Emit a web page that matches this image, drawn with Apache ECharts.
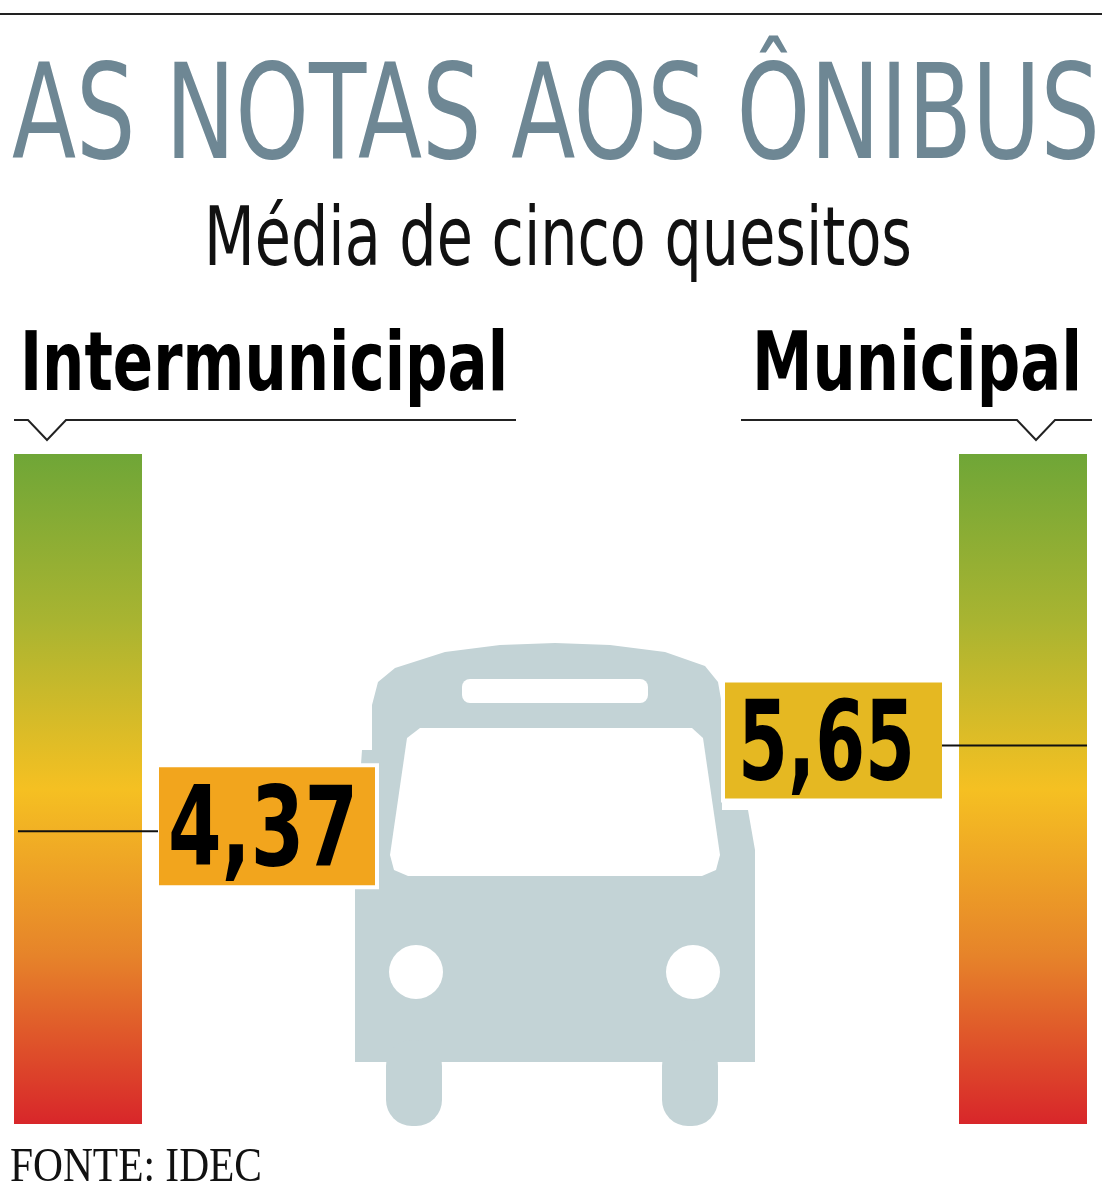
<!DOCTYPE html>
<html>
<head>
<meta charset="utf-8">
<script src="https://cdn.jsdelivr.net/npm/echarts@6/dist/echarts.min.js"></script>
<style>
  html, body { margin: 0; padding: 0; background: #fff; }
  #chart { width: 1102px; height: 1198px; }
</style>
</head>
<body>
<div id="chart"></div>
<script>
  // data
  let categories = ['Intermunicipal', 'Municipal'],
      notas      = [4.37, 5.65],
      notaLabels = ['4,37', '5,65'],
      scaleMax   = 10;

  let chart = echarts.init(document.getElementById('chart'));
  let cond = '"DejaVu Sans Condensed", "DejaVu Sans", sans-serif';
  let ctx = document.createElement('canvas').getContext('2d');

  // text stretched to a given width, baseline roughly at y
  function fitText(text, size, font, x, y, width, fill, asc) {
    let f = font.replace('SIZE', size + 'px');
    ctx.font = f;
    let w = ctx.measureText(text).width;
    return {type: 'text', x: x, y: y - (asc || 0.76) * size, scaleX: width / w, originX: 0, z: 10,
      style: {text: text, font: f, fill: fill, align: 'left', verticalAlign: 'top'}};
  }

  let barGradient = new echarts.graphic.LinearGradient(0, 0, 0, 1, [
    {offset: 0, color: '#6fa637'},
    {offset: 0.25, color: '#a9b431'},
    {offset: 0.5, color: '#f5c022'},
    {offset: 0.75, color: '#e6832a'},
    {offset: 1, color: '#d8262a'}
  ]);

  let option = {
    animation: false,
    grid: [
      {left: 14, top: 454, width: 128, height: 670},
      {left: 959, top: 454, width: 128, height: 670}
    ],
    xAxis: [
      {type: 'category', gridIndex: 0, data: [categories[0]], show: false},
      {type: 'category', gridIndex: 1, data: [categories[1]], show: false}
    ],
    yAxis: [
      {type: 'value', gridIndex: 0, min: 0, max: scaleMax, show: false},
      {type: 'value', gridIndex: 1, min: 0, max: scaleMax, show: false}
    ],
    series: [
      {type: 'bar', xAxisIndex: 0, yAxisIndex: 0, barWidth: '100%',
       data: [scaleMax], itemStyle: {color: barGradient}},
      {type: 'bar', xAxisIndex: 1, yAxisIndex: 1, barWidth: '100%',
       data: [scaleMax], itemStyle: {color: barGradient}}
    ]
  };
  chart.setOption(option);

  let y0 = chart.convertToPixel({yAxisIndex: 0}, notas[0]),
      y1 = chart.convertToPixel({yAxisIndex: 1}, notas[1]);

  let busColor = '#c3d3d6';
  let busBody = [[372, 750], [372, 705], [378, 682], [395, 668], [445, 652], [500, 645], [555, 643],
    [610, 645], [665, 652], [705, 666], [718, 682], [722, 705], [722, 810], [748, 810], [755, 850],
    [755, 1062], [355, 1062], [355, 850], [362, 750]];
  let windshield = [[420, 728], [692, 728], [703, 738], [720, 855], [716, 870], [702, 876],
    [408, 876], [394, 870], [390, 855], [407, 738]];

  let graphic = [
    {type: 'line', shape: {x1: 0, y1: 14, x2: 1102, y2: 14}, style: {stroke: '#222', lineWidth: 2}},
    fitText('AS NOTAS AOS ÔNIBUS', 131, '300 SIZE ' + cond, 12, 158, 1088, '#6e8794'),
    fitText('Média de cinco quesitos', 82, '300 SIZE ' + cond, 204, 265, 708, '#111'),
    fitText(categories[0], 82, 'bold SIZE ' + cond, 20, 390, 488, '#000'),
    fitText(categories[1], 82, 'bold SIZE ' + cond, 752, 390, 330, '#000'),
    {type: 'polyline', shape: {points: [[14, 420], [28, 420], [47, 440], [66, 420], [516, 420]]},
      style: {stroke: '#222', lineWidth: 2, fill: null}},
    {type: 'polyline', shape: {points: [[741, 420], [1017, 420], [1036, 440], [1055, 420], [1092, 420]]},
      style: {stroke: '#222', lineWidth: 2, fill: null}},
    // bus
    {type: 'polygon', shape: {points: busBody}, style: {fill: busColor}},
    {type: 'rect', shape: {x: 386, y: 1040, width: 56, height: 86, r: 26}, style: {fill: busColor}},
    {type: 'rect', shape: {x: 662, y: 1040, width: 56, height: 86, r: 26}, style: {fill: busColor}},
    {type: 'rect', shape: {x: 462, y: 679, width: 186, height: 24, r: 8}, style: {fill: '#fff'}},
    {type: 'polygon', shape: {points: windshield}, style: {fill: '#fff'}},
    {type: 'circle', shape: {cx: 416, cy: 972, r: 27}, style: {fill: '#fff'}},
    {type: 'circle', shape: {cx: 693, cy: 972, r: 27}, style: {fill: '#fff'}},
    // value markers
    {type: 'line', z: 20, shape: {x1: 18, y1: y0, x2: 158, y2: y0}, style: {stroke: '#111', lineWidth: 2}},
    {type: 'line', z: 20, shape: {x1: 942, y1: y1, x2: 1087, y2: y1}, style: {stroke: '#111', lineWidth: 2}},
    {type: 'rect', shape: {x: 157, y: y0 - 66, width: 220, height: 122},
      style: {fill: '#f2a51d', stroke: '#fff', lineWidth: 4}},
    fitText(notaLabels[0], 110, 'bold SIZE ' + cond, 168, y0 + 34, 190, '#000'),
    {type: 'rect', shape: {x: 723, y: y1 - 65, width: 221, height: 120},
      style: {fill: '#e5b822', stroke: '#fff', lineWidth: 4}},
    fitText(notaLabels[1], 110, 'bold SIZE ' + cond, 738, y1 + 34, 177, '#000'),
    fitText('FONTE: IDEC', 48, 'SIZE "Liberation Serif", "DejaVu Serif", serif', 10, 1182, 252, '#111', 0.78)
  ];
  chart.setOption({graphic: graphic});
</script>
</body>
</html>
